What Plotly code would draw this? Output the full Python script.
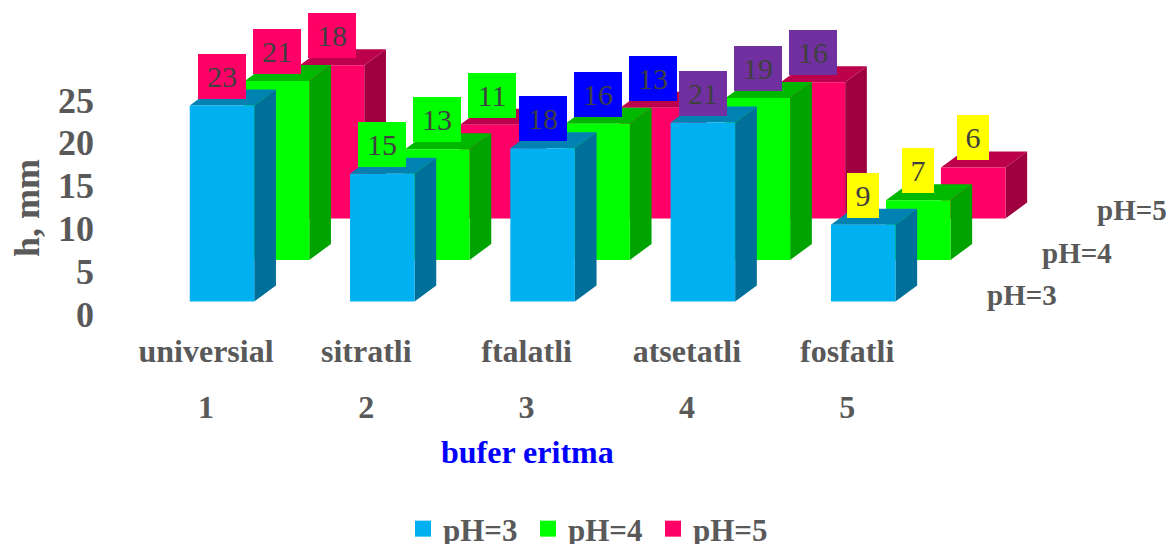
import plotly.graph_objects as go

categories = ["universial", "sitratli", "ftalatli", "atsetatli", "fosfatli"]
numbers = [1, 2, 3, 4, 5]
series_names = ["pH=3", "pH=4", "pH=5"]
ph3 = [23, 15, 18, 21, 9]
ph4 = [21, 13, 16, 19, 7]
ph5 = [18, 11, 13, 16, 6]
y_ticks = [0, 5, 10, 15, 20, 25]

W, H = 1167, 600       # taller than the window so the legend needs no extra margin
FONT = "Liberation Serif"
GREY = "#595959"
PX_X = 160.3           # pixels per category
PX_Y = 8.52            # pixels per value unit
X1 = 206.0             # pixel of category 1 label
Y0 = 301.5             # pixel of front-row floor
BAR_W = 64.5 / PX_X
BAR_OFF = 16.0 / PX_X
DEPTH_X = 21.7 / PX_X
DEPTH_Y = 16.0 / PX_Y
ROW_DX = 55.0 / PX_X
ROW_DY = 41.5 / PX_Y

face = {
    "pH=3": ("#00B0F0", "#006F9A", "#0082B2"),
    "pH=4": ("#00FF00", "#00A400", "#00B800"),
    "pH=5": ("#FF0066", "#A00040", "#BC004B"),
}
label_colors = ["#FF0066", "#00FF00", "#0000FF", "#7030A0", "#FFFF00"]

series = [ph3, ph4, ph5]
fig = go.Figure()


def polys(list_of_polys):
    xs, ys = [], []
    for p in list_of_polys:
        for a, b in p + [p[0]]:
            xs.append(a)
            ys.append(b)
        xs.append(None)
        ys.append(None)
    return xs, ys


def add(list_of_polys, color):
    xs, ys = polys(list_of_polys)
    fig.add_trace(go.Scatter(x=xs, y=ys, mode="lines", fill="toself", fillcolor=color,
                             line=dict(width=0, color=color), hoverinfo="skip", showlegend=False))


for r in [2, 1, 0]:
    vals = series[r]
    front, side, top = face[series_names[r]]
    sides, tops, fronts = [], [], []
    for n, v in zip(numbers, vals):
        x0 = n + BAR_OFF - BAR_W / 2 + r * ROW_DX
        x1 = x0 + BAR_W
        b = r * ROW_DY
        t = b + v
        fronts.append([(x0, b), (x1, b), (x1, t), (x0, t)])
        sides.append([(x1, b), (x1 + DEPTH_X, b + DEPTH_Y), (x1 + DEPTH_X, t + DEPTH_Y), (x1, t)])
        tops.append([(x0, t), (x1, t), (x1 + DEPTH_X, t + DEPTH_Y), (x0 + DEPTH_X, t + DEPTH_Y)])
    add(sides, side)
    add(tops, top)
    add(fronts, front)

# legend entries also carry the secondary axes
for name in series_names:
    fig.add_trace(go.Scatter(x=[None], y=[None], xaxis="x2", yaxis="y2", mode="markers", name=name,
                             marker=dict(symbol="square", size=16, color=face[name][0]),
                             hoverinfo="skip"))

annotations = []
for r in range(3):
    for n, v, c in zip(numbers, series[r], label_colors):
        annotations.append(dict(
            x=n + BAR_OFF + r * ROW_DX, y=r * ROW_DY + v, xref="x", yref="y",
            text=str(v), showarrow=False, xanchor="center", yanchor="bottom", yshift=7,
            width=16 * len(str(v)) + 16, height=45, bgcolor=c, borderpad=0, borderwidth=0,
            font=dict(family=FONT, size=30, color="#404040"), align="center", valign="middle"))

for name, px, py in zip(series_names, [1022, 1077, 1132], [295, 253, 210]):
    annotations.append(dict(x=px / W, y=1 - py / H, xref="paper", yref="paper", text="<b>%s</b>" % name,
                            xanchor="center", yanchor="middle",
                            showarrow=False, font=dict(family=FONT, size=29, color=GREY)))

annotations.append(dict(x=527 / W, y=1 - 452 / H, xref="paper", yref="paper", text="<b>bufer eritma</b>",
                        xanchor="center", yanchor="middle",
                        showarrow=False, font=dict(family=FONT, size=32, color="#0000FF")))
annotations.append(dict(x=27 / W, y=1 - 208 / H, xref="paper", yref="paper", text="<b>h, mm</b>", textangle=-90,
                        xanchor="center", yanchor="middle",
                        showarrow=False, font=dict(family=FONT, size=36, color=GREY)))

x_range = [1 + (0 - X1) / PX_X, 1 + (W - X1) / PX_X]
y_range = [(Y0 - H) / PX_Y, Y0 / PX_Y]
y2_scale = 8.56
y2_range = [(314 - H) / y2_scale, 314 / y2_scale]

tick_font = dict(family=FONT, size=32, color=GREY)
fig.update_layout(
    width=W, height=H, margin=dict(l=0, r=0, t=0, b=0),
    paper_bgcolor="white", plot_bgcolor="white",
    font=dict(family=FONT, color=GREY),
    showlegend=True,
    legend=dict(orientation="h", x=403 / W, y=1 - 502 / H,
                xanchor="left", yanchor="top",
                font=dict(family=FONT, size=31, color=GREY, weight="bold"),
                bgcolor="rgba(0,0,0,0)", itemwidth=30, entrywidth=80, entrywidthmode="pixels"),
    annotations=annotations,
    xaxis=dict(range=x_range, domain=[0, 1], anchor="free", position=1 - 329 / H,
               tickmode="array", tickvals=numbers, ticktext=["<b>%s</b>" % c for c in categories],
               tickfont=tick_font, ticks="", showgrid=False, zeroline=False, showline=False),
    yaxis=dict(range=y_range, domain=[0, 1], visible=False, showgrid=False, zeroline=False),
    xaxis2=dict(range=x_range, domain=[0, 1], overlaying="x", anchor="free", position=1 - 385 / H,
                tickmode="array", tickvals=numbers, ticktext=["<b>%d</b>" % n for n in numbers],
                tickfont=tick_font, ticks="", showgrid=False, zeroline=False, showline=False),
    yaxis2=dict(range=y2_range, domain=[0, 1], overlaying="y", anchor="free", position=94 / W, side="left",
                tickmode="array", tickvals=y_ticks, ticktext=["<b>%d</b>" % t for t in y_ticks],
                tickfont=dict(family=FONT, size=36, color=GREY), ticks="", showgrid=False,
                zeroline=False, showline=False),
)

fig.write_html("out.html", config={"displayModeBar": False},
               post_script="document.body.style.margin='0';document.body.style.overflow='hidden';"
                           "document.documentElement.style.overflow='hidden';")
